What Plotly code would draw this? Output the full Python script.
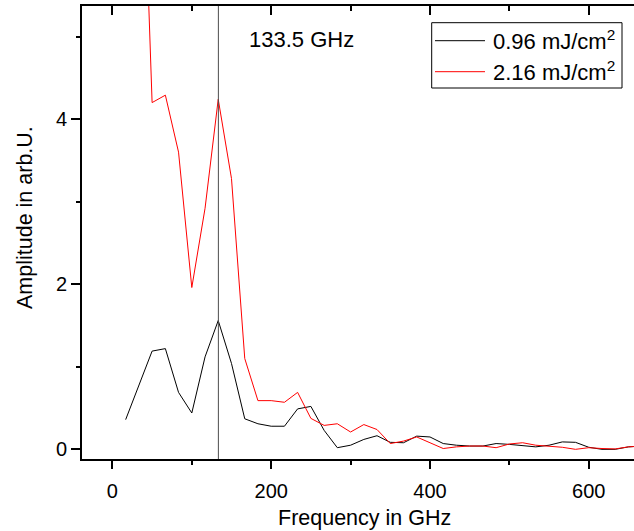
import plotly.graph_objects as go

freq = [16.7, 33.3, 50.0, 66.7, 83.3, 100.0, 116.7, 133.3, 150.0, 166.7,
        183.3, 200.0, 216.7, 233.3, 250.0, 266.7, 283.3, 300.0, 316.7, 333.3,
        350.0, 366.7, 383.3, 400.0, 416.7, 433.3, 450.0, 466.7, 483.3, 500.0,
        516.7, 533.3, 550.0, 566.7, 583.3, 600.0, 616.7, 633.3, 650.0, 666.7]

amp_096 = [0.36, 0.77, 1.19, 1.22, 0.69, 0.44, 1.12, 1.56, 1.04, 0.37,
           0.31, 0.28, 0.28, 0.49, 0.52, 0.23, 0.02, 0.05, 0.12, 0.165,
           0.085, 0.08, 0.16, 0.15, 0.07, 0.05, 0.04, 0.04, 0.07, 0.06,
           0.045, 0.03, 0.05, 0.09, 0.085, 0.025, 0.0, 0.0, 0.03, 0.04]

freq_216 = freq[1:]
amp_216 = [8.9, 4.20, 4.29, 3.60, 1.96, 2.92, 4.24, 3.28, 1.10,
           0.59, 0.59, 0.57, 0.69, 0.375, 0.29, 0.31, 0.21, 0.30, 0.24,
           0.07, 0.10, 0.15, 0.08, 0.01, 0.03, 0.04, 0.04, 0.02, 0.065,
           0.08, 0.05, 0.04, 0.025, 0.0, 0.02, 0.01, 0.005, 0.03, 0.04]

marker_freq = 133.5
marker_label = "133.5 GHz"
series_names = ["0.96 mJ/cm<sup>2</sup>", "2.16 mJ/cm<sup>2</sup>"]
series_colors = ["#000000", "#ff0000"]
x_ticks = [0, 200, 400, 600]
y_ticks = [0, 2, 4]

FONT = "Liberation Sans, Arial, sans-serif"

W, H = 634, 531
ML, MR, MT, MB = 82, 0, 6, 72
PW, PH = W - ML - MR, H - MT - MB


def px(xp):
    return (xp - ML) / PW


def py(yp):
    return (H - MB - yp) / PH


fig = go.Figure()
fig.add_trace(go.Scatter(x=freq, y=amp_096, mode="lines", name=series_names[0],
                         line=dict(color=series_colors[0], width=1)))
fig.add_trace(go.Scatter(x=freq_216, y=amp_216, mode="lines", name=series_names[1],
                         line=dict(color=series_colors[1], width=1)))
fig.add_trace(go.Scatter(x=[None], y=[None], xaxis="x2", showlegend=False,
                         hoverinfo="skip"))

xr = [-38.3, 657]
yr = [-0.117, 5.37]

fig.update_layout(
    width=W, height=H,
    margin=dict(l=ML, r=MR, t=MT, b=MB, autoexpand=False),
    paper_bgcolor="white", plot_bgcolor="white",
    font=dict(family=FONT, color="black"),
    showlegend=False,
    xaxis=dict(range=xr, tickvals=x_ticks, showgrid=False, zeroline=False,
               showline=True, linecolor="black", linewidth=2,
               ticks="outside", ticklen=8, tickwidth=1.5, tickcolor="black",
               tickfont=dict(size=20, family=FONT), ticklabelstandoff=5,
               minor=dict(dtick=100, tick0=0, ticks="outside", ticklen=4,
                          tickwidth=1.5, tickcolor="black", showgrid=False)),
    xaxis2=dict(range=xr, overlaying="x", side="top", tickvals=x_ticks,
                showticklabels=False, showgrid=False, zeroline=False,
                showline=True, linecolor="black", linewidth=2,
                ticks="inside", ticklen=9, tickwidth=1.5, tickcolor="black",
                minor=dict(dtick=100, tick0=0, ticks="inside", ticklen=5,
                           tickwidth=1.5, tickcolor="black", showgrid=False)),
    yaxis=dict(range=yr, tickvals=y_ticks, showgrid=False, zeroline=False,
               showline=True, linecolor="black", linewidth=2,
               ticks="outside", ticklen=9, tickwidth=1.5, tickcolor="black",
               tickfont=dict(size=20, family=FONT),
               minor=dict(dtick=1, tick0=0, ticks="outside", ticklen=4,
                          tickwidth=1.5, tickcolor="black", showgrid=False)),
)

fig.add_shape(type="line", x0=marker_freq, x1=marker_freq, y0=0, y1=1,
              xref="x", yref="paper", line=dict(color="#4d4d4d", width=1))

fig.add_annotation(x=169, y=4.96, xref="x", yref="y", text=marker_label,
                   showarrow=False, xanchor="left", yanchor="middle",
                   font=dict(size=22, family=FONT, color="black"))

# legend box drawn manually
fig.add_shape(type="rect", xref="paper", yref="paper",
              x0=px(431.7), x1=px(622), y0=py(88), y1=py(22.7),
              line=dict(color="black", width=1), fillcolor="white", layer="above")
for i, yy in enumerate([40.7, 71.7]):
    fig.add_shape(type="line", xref="paper", yref="paper",
                  x0=px(435), x1=px(485), y0=py(yy), y1=py(yy),
                  line=dict(color=series_colors[i], width=1), layer="above")
    fig.add_annotation(x=px(491), y=py(yy - 1), xref="paper", yref="paper",
                       text=series_names[i], showarrow=False,
                       xanchor="left", yanchor="middle",
                       font=dict(size=22, family=FONT, color="black"))

fig.add_annotation(x=px(364), y=py(518), xref="paper", yref="paper",
                   text="Frequency in GHz", showarrow=False,
                   xanchor="center", yanchor="middle",
                   font=dict(size=21.5, family=FONT, color="black"))
fig.add_annotation(x=px(25), y=py(218), xref="paper", yref="paper",
                   text="Amplitude in arb.U.", showarrow=False, textangle=-90,
                   xanchor="center", yanchor="middle",
                   font=dict(size=21.5, family=FONT, color="black"))

fig.write_html("out.html", config={"displayModeBar": False},
               post_script="document.body.style.margin='0';")
